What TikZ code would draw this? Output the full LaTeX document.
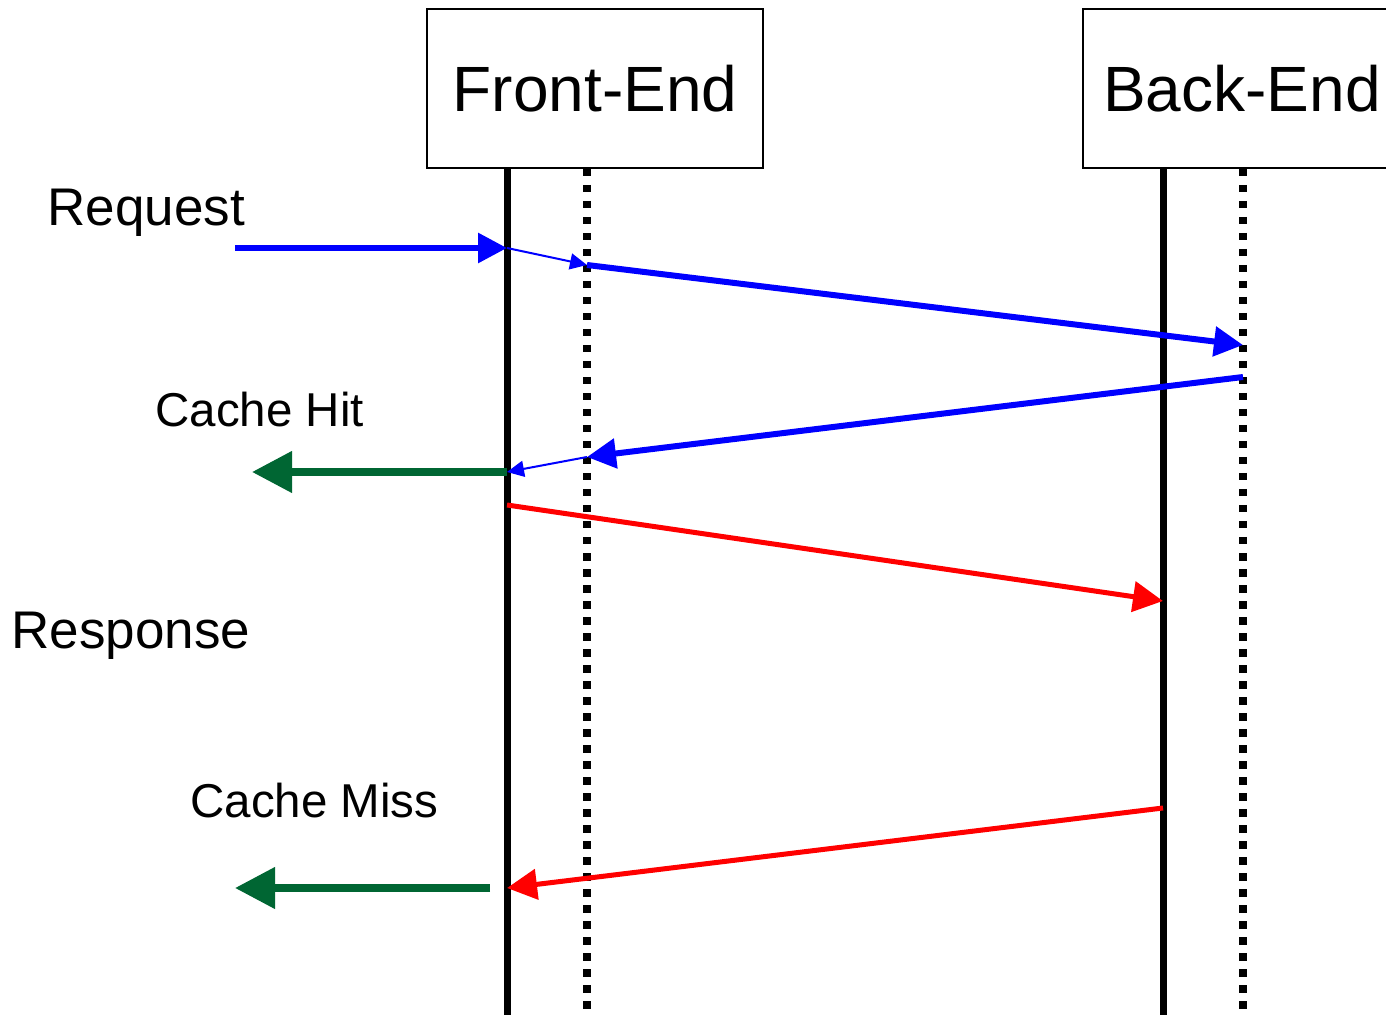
\documentclass[tikz,border=0pt]{standalone}
\usepackage{fontspec}
\setmainfont{Liberation Sans}
\usetikzlibrary{arrows.meta, positioning}
\usepackage{xcolor}
\definecolor{msgblue}{RGB}{0,0,255}
\definecolor{msgred}{RGB}{255,0,0}
\definecolor{replygreen}{RGB}{0,102,51}

\begin{document}
\begin{tikzpicture}[
                x=0.5pt, y=-0.5pt,
                line join=miter,
                actorbox/.style={draw=black, line width=1pt, inner sep=0pt, minimum width=168pt, minimum height=79.5pt, font=\fontsize{32}{38}\selectfont},
                biglabel/.style={anchor=base west, inner sep=0pt, font=\fontsize{26.5}{31}\selectfont},
                smalllabel/.style={anchor=base west, inner sep=0pt, font=\fontsize{23.75}{28}\selectfont},
                lifeline/.style={black, line width=3.5pt},
                cacheline/.style={black, line width=3.75pt, dash pattern=on 3.75pt off 4.25pt},
                bluemsg/.style={msgblue, line width=3pt, -{Triangle[length=14.5pt, width=14.5pt]}},
                bluehop/.style={msgblue, line width=1pt, -{Triangle[length=8.5pt, width=8pt]}},
                redmsg/.style={msgred, line width=2.5pt, -{Triangle[length=15pt, width=15pt]}},
                greenmsg/.style={replygreen, line width=3.75pt, -{Triangle[length=20pt, width=20pt]}}
                ]
                \clip (0,0) rectangle (1386,1015);

                %% Actors
                \node[actorbox] (front) at (595,88.5) {Front-End};
                \node[actorbox, minimum width=159pt] (back) at (1242,88.5) {Back-End};

                %% Lifelines
                \foreach \x/\name in {507/fe, 1163/be} {
                    \coordinate (\name-top) at (\x,168);
                    \coordinate (\name-bot) at (\x,1015);
                    \draw[lifeline] (\name-top) -- (\name-bot);
                }
                \foreach \x/\name in {587/fc, 1243/bc} {
                    \coordinate (\name-top) at (\x,169);
                    \coordinate (\name-bot) at (\x,1010);
                    \draw[cacheline] (\name-top) -- (\name-bot);
                }

                %% Message points
                \coordinate (req-in) at (235,248);
                \coordinate (fe-req) at (507,248);
                \coordinate (fc-req) at (587,265);
                \coordinate (bc-req) at (1243,345);
                \coordinate (bc-resp) at (1243,377);
                \coordinate (fc-resp) at (587,457);
                \coordinate (fe-resp) at (507,472);
                \coordinate (hit-out) at (252,472);
                \coordinate (fe-miss) at (507,505);
                \coordinate (be-miss) at (1163,601);
                \coordinate (be-fill) at (1163,808);
                \coordinate (fe-fill) at (507,888);
                \coordinate (miss-from) at (490,888);
                \coordinate (miss-out) at (235,888);

                % request path
                \draw[bluemsg] (req-in) -- (fe-req);
                \draw[bluehop] (fe-req) -- (fc-req);
                \draw[bluemsg] (fc-req) -- (bc-req);

                % cache hit
                \draw[bluemsg] (bc-resp) -- (fc-resp);
                \draw[bluehop] (fc-resp) -- (fe-resp);
                \draw[greenmsg] (fe-resp) -- (hit-out);

                % cache miss
                \draw[redmsg] (fe-miss) -- (be-miss);
                \draw[redmsg] (be-fill) -- (fe-fill);
                \draw[greenmsg] (miss-from) -- (miss-out);

                %% Labels
                \node[biglabel] (request) at (47,226) {Request};
                \node[smalllabel] (hit) at (155,427) {Cache Hit};
                \node[biglabel] (response) at (11,648) {Response};
                \node[smalllabel] (miss) at (190,817) {Cache Miss};
\end{tikzpicture}
\end{document}
